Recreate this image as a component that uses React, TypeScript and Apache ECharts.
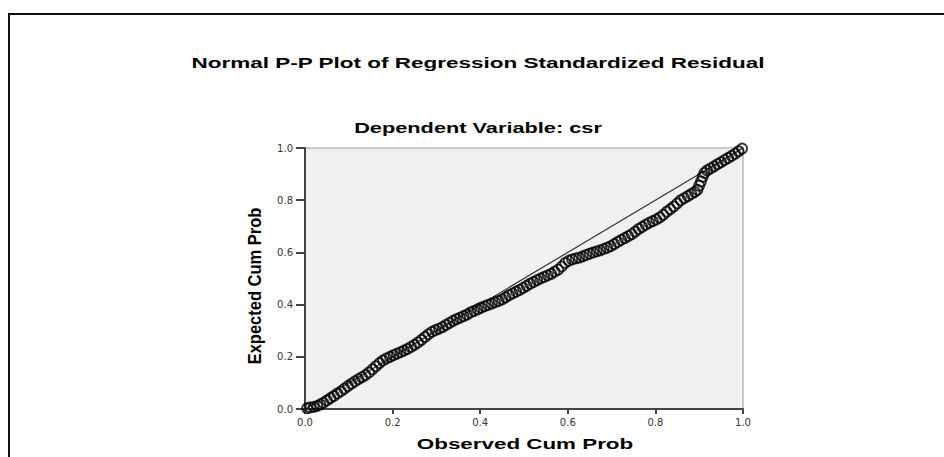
import React, { useEffect, useRef } from "react";
import * as echarts from "echarts";

const titleText = "Normal P-P Plot of Regression Standardized Residual";
const subtitleText = "Dependent Variable: csr";
const xAxisName = "Observed Cum Prob";
const yAxisName = "Expected Cum Prob";
const tickValues = [0, 0.2, 0.4, 0.6, 0.8, 1.0];

const observedCumProb = [
  0.005, 0.012, 0.02, 0.028, 0.035, 0.042, 0.05, 0.058, 0.066, 0.074, 0.082, 0.09, 0.098, 0.106, 0.114, 0.122,
  0.13, 0.138, 0.146, 0.154, 0.162, 0.17, 0.178, 0.186, 0.194, 0.202, 0.21, 0.218, 0.226, 0.234, 0.242, 0.25,
  0.258, 0.266, 0.274, 0.282, 0.29, 0.298, 0.306, 0.314, 0.322, 0.33, 0.338, 0.346, 0.354, 0.362, 0.37, 0.378,
  0.386, 0.394, 0.402, 0.41, 0.418, 0.426, 0.434, 0.442, 0.45, 0.458, 0.466, 0.474, 0.482, 0.49, 0.498, 0.506,
  0.514, 0.522, 0.53, 0.538, 0.546, 0.554, 0.562, 0.57, 0.578, 0.586, 0.594, 0.602, 0.61, 0.618, 0.626, 0.634,
  0.642, 0.65, 0.658, 0.666, 0.674, 0.682, 0.69, 0.698, 0.706, 0.714, 0.722, 0.73, 0.738, 0.746, 0.754, 0.762,
  0.77, 0.778, 0.786, 0.794, 0.802, 0.81, 0.818, 0.826, 0.834, 0.842, 0.85, 0.858, 0.866, 0.874, 0.882, 0.89,
  0.896, 0.9, 0.904, 0.908, 0.912, 0.918, 0.926, 0.934, 0.942, 0.95, 0.958, 0.966, 0.974, 0.982, 0.99, 0.998,
];

const expectedCumProb = [
  0.003, 0.006, 0.008, 0.012, 0.018, 0.024, 0.033, 0.042, 0.05, 0.06, 0.068, 0.078, 0.088, 0.097, 0.106, 0.114,
  0.122, 0.13, 0.14, 0.152, 0.164, 0.176, 0.186, 0.194, 0.2, 0.206, 0.212, 0.218, 0.224, 0.23, 0.238, 0.246,
  0.255, 0.265, 0.276, 0.287, 0.296, 0.302, 0.308, 0.314, 0.322, 0.33, 0.338, 0.344, 0.35, 0.356, 0.362, 0.37,
  0.376, 0.382, 0.388, 0.394, 0.399, 0.404, 0.409, 0.414, 0.42, 0.428, 0.436, 0.443, 0.45, 0.456, 0.464, 0.472,
  0.48, 0.487, 0.494, 0.5, 0.506, 0.512, 0.518, 0.526, 0.534, 0.546, 0.56, 0.568, 0.573, 0.577, 0.58, 0.585,
  0.59, 0.595, 0.6, 0.604, 0.608, 0.613, 0.618, 0.624, 0.632, 0.64, 0.648, 0.655, 0.662, 0.67, 0.68, 0.69,
  0.698, 0.706, 0.714, 0.72, 0.726, 0.734, 0.744, 0.756, 0.766, 0.776, 0.788, 0.8, 0.808, 0.816, 0.824, 0.832,
  0.84, 0.856, 0.872, 0.89, 0.905, 0.914, 0.922, 0.93, 0.938, 0.946, 0.954, 0.962, 0.97, 0.978, 0.988, 0.998,
];

const referenceLine = [
  [0, 0],
  [1, 1],
];

export default function App() {
  const ref = useRef<HTMLDivElement>(null);
  useEffect(() => {
    if (!ref.current) return;
    const chart = echarts.init(ref.current, null, { renderer: "svg" });
    const points = observedCumProb.map((x, i) => [x, expectedCumProb[i]]);
    const tickLabel = {
      color: "#333",
      fontFamily: "DejaVu Sans",
      fontSize: 10,
      formatter: (v: number) => (tickValues.includes(Math.round(v * 10) / 10) ? v.toFixed(1) : ""),
    };
    chart.setOption({
      animation: false,
      backgroundColor: "#ffffff",
      grid: { left: 305, right: 201, top: 148, bottom: 48, show: true, backgroundColor: "#f0f0f0", borderColor: "#9a9a9a", borderWidth: 1 },
      xAxis: {
        type: "value",
        min: 0,
        max: 1,
        interval: 0.2,
        axisLine: { show: true, lineStyle: { color: "#444", width: 2 } },
        axisTick: { show: true, length: 5, lineStyle: { color: "#444", width: 2 } },
        axisLabel: { ...tickLabel, margin: 8 },
        splitLine: { show: false },
      },
      yAxis: {
        type: "value",
        min: 0,
        max: 1,
        interval: 0.2,
        axisLine: { show: true, lineStyle: { color: "#444", width: 2 } },
        axisTick: { show: true, length: 9, lineStyle: { color: "#444", width: 2 } },
        axisLabel: { ...tickLabel, margin: 12 },
        splitLine: { show: false },
      },
      graphic: [
        { type: "line", shape: { x1: 9, y1: 14, x2: 9, y2: 457 }, style: { stroke: "#111", lineWidth: 2 } },
        { type: "line", shape: { x1: 8, y1: 14, x2: 944, y2: 14 }, style: { stroke: "#111", lineWidth: 2 } },
        {
          type: "text",
          x: 478,
          y: 63,
          scaleX: 1.5,
          style: { text: titleText, font: "bold 15px 'Liberation Sans'", fill: "#000", textAlign: "center", textVerticalAlign: "middle" },
        },
        {
          type: "text",
          x: 478,
          y: 128,
          scaleX: 1.45,
          style: { text: subtitleText, font: "bold 15px 'Liberation Sans'", fill: "#000", textAlign: "center", textVerticalAlign: "middle" },
        },
        {
          type: "text",
          x: 525,
          y: 444,
          scaleX: 1.6,
          style: { text: xAxisName, font: "bold 14px 'Liberation Sans'", fill: "#000", textAlign: "center", textVerticalAlign: "middle" },
        },
        {
          type: "text",
          x: 255,
          y: 286,
          rotation: Math.PI / 2,
          scaleY: 1.1,
          style: { text: yAxisName, font: "bold 16.5px 'Liberation Sans'", fill: "#000", textAlign: "center", textVerticalAlign: "middle" },
        },
      ],
      series: [
        {
          type: "line",
          data: referenceLine,
          symbol: "none",
          lineStyle: { color: "#333", width: 1.2 },
          silent: true,
          z: 1,
        },
        {
          type: "scatter",
          data: points,
          symbol: "circle",
          symbolSize: 10,
          itemStyle: { color: "rgba(0,0,0,0)", borderColor: "#000", borderWidth: 1.8 },
          z: 2,
        },
      ],
    });
    return () => chart.dispose();
  }, []);
  return <div ref={ref} style={{ position: "fixed", left: 0, top: 0, width: 944, height: 457 }} />;
}
